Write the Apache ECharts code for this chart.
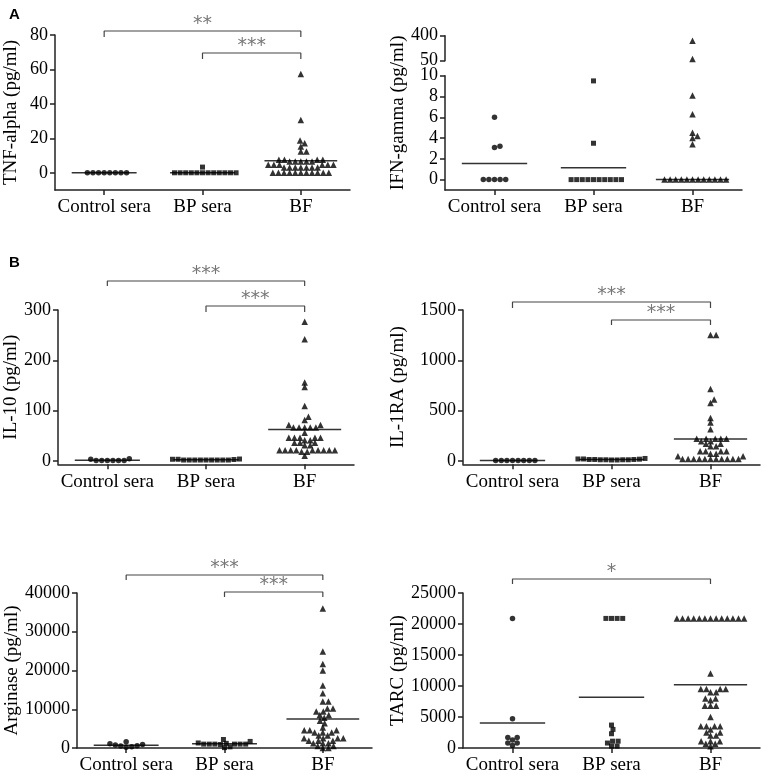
<!DOCTYPE html>
<html>
<head>
<meta charset="utf-8">
<script src="https://cdn.jsdelivr.net/npm/echarts@6/dist/echarts.min.js"></script>
<style>html,body{margin:0;padding:0;background:#fff}#c{width:765px;height:775px}</style>
</head>
<body>
<div id="c"></div>
<script>
const groups = ['Control sera', 'BP sera', 'BF'];

// A: TNF-alpha
const tnfControl = [0,0,0,0,0,0,0,0];
const tnfBP = [0,0,0,0,0,0,0,0,0,0,0,0,3.3];
const tnfBF = [57.4,30.7,18.7,17.2,15.3,12.4,12.4,7.5,7.5,7.5,7.5,6.5,6.5,6.5,6.5,6.5,4.6,4.6,4.6,4.6,4.6,4.6,3.1,3.1,3.1,3.1,3.1,3.1,3.1,0,0,0,0,0,0,0,0,0,0,0];
const tnfMedians = [0, 0, 7.0];
const tnfTicks = [0,20,40,60,80];
const tnfSig = [['Control sera','BF','**'],['BP sera','BF','***']];

// A: IFN-gamma (broken axis)
const ifnControl = [6.0,3.2,3.1,0,0,0,0,0];
const ifnBP = [9.5,3.5,0,0,0,0,0,0,0,0,0,0];
const ifnBF = [330,73.8,8.1,6.3,4.5,4.2,4.0,3.4,0,0,0,0,0,0,0,0,0,0,0,0];
const ifnMedians = [1.54, 1.13, 0];
const ifnTicksLow = [0,2,4,6,8,10];
const ifnTicksHigh = [50,400];

// B: IL-10
const il10Control = [3,0.5,0.5,0.5,0.5,0.5,0.5,4];
const il10BP = [3,1.5,1.5,1.5,1.5,1.5,2.5,3,1.5,1.5,1.5,1.5,3.5];
const il10BF = [276.7,242,156,147,109,87.6,81,71,71,66,66,66,66,66,56,46,46,46,46,46,41,41,36,36,36,31,31,21,21,21,21,21,21,21,21,21,18,18,10];
const il10Medians = [1, 2, 62.4];
const il10Ticks = [0,100,200,300];
const il10Sig = [['Control sera','BF','***'],['BP sera','BF','***']];

// B: IL-1RA
const il1raControl = [5,5,5,5,5,5,5,5];
const il1raBP = [20,15,12,12,10,12,15,25,12,10,15,20,18];
const il1raBF = [1251,1251,714,611,577,428,382,315,222,222,222,222,222,196,196,172,172,146,146,96,96,96,96,73,73,46,46,20,20,20,20,20,20,20,20,20,20,20];
const il1raMedians = [5, 15, 219];
const il1raTicks = [0,500,1000,1500];
const il1raSig = [['Control sera','BF','***'],['BP sera','BF','***']];

// B: Arginase
const argControl = [1100,800,500,200,300,600,900,1600];
const argBP = [1000,1000,1000,2200,1700,100,300,1000,1000,1000,900,1200,1300];
const argBF = [36000,24900,21700,20000,16100,14100,12000,12000,10200,10200,9400,9400,8500,8500,7800,7050,6400,5300,4600,4600,4600,4000,4000,4000,3200,3200,2500,2500,2500,2500,1900,1900,1900,1200,1200,1200,500,500,0,0];
const argMedians = [700, 1100, 7500];
const argTicks = [0,10000,20000,30000,40000];
const argSig = [['Control sera','BF','***'],['BP sera','BF','***']];

// B: TARC
const tarcControl = [20900,4700,1700,1700,1300,800,800,400];
const tarcBP = [20900,20900,20900,20900,3700,3000,2300,1100,1100,800,300,300];
const tarcBF = [20900,20900,20900,20900,20900,20900,20900,20900,20900,20900,20900,20900,20900,12000,9500,9500,9500,9500,9000,9000,8000,8000,7700,6800,6800,6800,5000,3500,3500,3500,3500,3000,2500,2500,2000,2000,1100,1100,1100,700,700,300];
const tarcMedians = [4030, 8200, 10200];
const tarcTicks = [0,5000,10000,15000,20000,25000];
const tarcSig = [['Control sera','BF','*']];

// ---------- styling / layout ----------
const SERIF = 'Liberation Serif';
const AX = '#222';
const symbols = ['circle','rect','triangle'];
const symSizes = [5.5, 5, 6.5];
const halfW = [0.33, 0.33, 0.37];
const SPACE_X = 5.6;   // horizontal spacing of neighbours (px)
const SPACE_Y = 4.5;   // vertical reach of collisions (px)

const option = {
  animation: false,
  backgroundColor: '#fff',
  title: [
    {text:'A', left:4, top:2, textStyle:{fontFamily:'Liberation Sans', fontWeight:'bold', fontSize:15, color:'#000'}},
    {text:'B', left:4, top:250, textStyle:{fontFamily:'Liberation Sans', fontWeight:'bold', fontSize:15, color:'#000'}}
  ],
  grid: [], xAxis: [], yAxis: [], series: []
};

function addGrid(box, cfg) {
  const gi = option.grid.length;
  option.grid.push({left:box.left, top:box.top, width:box.width, height:box.height});
  option.xAxis.push({
    gridIndex: gi, type: 'value', min: -0.5, max: 2.5, show: cfg.xShow !== false,
    axisLine: {onZero:false, lineStyle:{color:AX, width:1.5}},
    axisTick: {customValues:[0,1,2], length:5, lineStyle:{color:AX, width:1.5}},
    axisLabel: {customValues:[0,1,2], formatter: v => groups[Math.round(v)], fontFamily:SERIF, fontSize:19, color:'#000', margin:8},
    splitLine: {show:false}
  });
  option.yAxis.push({
    gridIndex: gi, type: 'value', min: cfg.min, max: cfg.max,
    name: cfg.name || '', nameLocation: 'middle', nameGap: cfg.nameGap || 0,
    nameTextStyle: {fontFamily:SERIF, fontSize:19, color:'#000'},
    axisLine: {show: cfg.yLine !== false, onZero:false, lineStyle:{color:AX, width:1.5}},
    axisTick: {show: !!cfg.ticks, customValues: cfg.ticks || [], length:5, lineStyle:{color:AX, width:1.5}},
    axisLabel: {show: !!cfg.ticks, customValues: cfg.ticks || [], formatter: v => String(v), fontFamily:SERIF, fontSize:18, color:'#000', margin:7},
    splitLine: {show:false}
  });
  return gi;
}

function swarm(values, ppu) {
  const order = values.map((v,i)=>i).sort((a,b)=>values[a]-values[b]);
  const placed = []; const off = new Array(values.length).fill(0);
  for (const i of order) {
    const y = values[i]*ppu;
    const near = placed.filter(p => Math.abs(p.y-y) < SPACE_Y);
    const cands = [0];
    near.forEach(p => {
      const r = (p.y-y)/SPACE_Y;
      const dx = SPACE_X*Math.sqrt(Math.max(0, 1-r*r));
      cands.push(p.x+dx, p.x-dx);
    });
    cands.sort((a,b)=>(Math.abs(a)-Math.abs(b)) || (b-a));
    let best = 0;
    for (const c of cands) {
      const ok = near.every(p => {
        const ex = (p.x-c)/SPACE_X, ey = (p.y-y)/SPACE_Y;
        return ex*ex + ey*ey >= 1-1e-6;
      });
      if (ok) { best = c; break; }
    }
    placed.push({x:best, y}); off[i] = best;
  }
  return off;
}

function addPoints(gi, sets, ppu) {
  sets.forEach((vals, g) => {
    const off = swarm(vals, ppu);
    option.series.push({
      type:'scatter', xAxisIndex:gi, yAxisIndex:gi, symbol:symbols[g], symbolSize:symSizes[g],
      itemStyle:{color:'#000'}, z:3, silent:true,
      data: vals.map((v,i)=>({value:[g, v], symbolOffset:[off[i], 0]}))
    });
  });
}

function addMedians(gi, meds) {
  meds.forEach((m, g) => {
    option.series.push({
      type:'line', xAxisIndex:gi, yAxisIndex:gi, symbol:'none', silent:true, z:2,
      lineStyle:{color:'#333', width:1.5},
      data:[[g-halfW[g], m],[g+halfW[g], m]]
    });
  });
}

function addBrackets(gi, sig, cfg, box, bars, drops) {
  const ppu = box.height/(cfg.max-cfg.min);
  sig.forEach((s, k) => {
    const a = groups.indexOf(s[0]), b = groups.indexOf(s[1]);
    const barV = cfg.max - bars[k]/ppu;
    const tipV = barV - drops[k]/ppu;
    option.series.push({
      type:'line', xAxisIndex:gi, yAxisIndex:gi, symbol:'none', clip:false, silent:true,
      lineStyle:{color:'#444', width:1.2},
      data:[[a,tipV],[a,barV],[b,barV],[b,tipV]]
    });
    option.series.push({
      type:'scatter', xAxisIndex:gi, yAxisIndex:gi, symbolSize:1, clip:false, silent:true,
      itemStyle:{color:'rgba(0,0,0,0)'},
      label:{show:true, position:'top', distance:-3.5, formatter:s[2], fontFamily:'DejaVu Sans', fontSize:19, color:'#555'},
      data:[[(a+b)/2, barV]]
    });
  });
}

function panel(box, cfg, sets, meds, sig, bars, drops) {
  const gi = addGrid(box, cfg);
  const ppu = box.height/(cfg.max-cfg.min);
  addMedians(gi, meds);
  addPoints(gi, sets, ppu);
  if (sig) addBrackets(gi, sig, cfg, box, bars, drops);
}

// TNF-alpha
panel({left:55, top:35, width:295, height:155},
  {min:-10, max:80, ticks:tnfTicks, name:'TNF-alpha (pg/ml)', nameGap:34},
  [tnfControl, tnfBP, tnfBF], tnfMedians, tnfSig, [-4, 18], [6, 6]);

// IFN-gamma: lower segment, upper segment, name holder
(function(){
  const low = {left:445, top:75.7, width:297, height:114.3};
  const high = {left:445, top:35.7, width:297, height:25};
  const gLow = addGrid(low, {min:-1, max:10, ticks:ifnTicksLow});
  const gHigh = addGrid(high, {min:50, max:400, ticks:ifnTicksHigh, xShow:false});
  addGrid({left:445, top:35.7, width:297, height:154.3}, {min:0, max:1, xShow:false, yLine:false, name:'IFN-gamma (pg/ml)', nameGap:37});
  addMedians(gLow, ifnMedians);
  const lowSets = [ifnControl, ifnBP, ifnBF].map(a => a.filter(v => v <= 10));
  const highSets = [ifnControl, ifnBP, ifnBF].map(a => a.filter(v => v > 10));
  addPoints(gLow, lowSets, low.height/11);
  addPoints(gHigh, highSets, high.height/350);
})();

// IL-10
panel({left:58, top:310, width:296, height:154.3},
  {min:-7, max:300, ticks:il10Ticks, name:'IL-10 (pg/ml)', nameGap:36},
  [il10Control, il10BP, il10BF], il10Medians, il10Sig, [-29, -4], [5, 6]);

// IL-1RA
panel({left:463, top:310, width:297, height:154.3},
  {min:-33, max:1500, ticks:il1raTicks, name:'IL-1RA (pg/ml)', nameGap:55},
  [il1raControl, il1raBP, il1raBF], il1raMedians, il1raSig, [-8, 10], [6, 5]);

// Arginase
panel({left:77, top:593, width:295, height:155},
  {min:0, max:40000, ticks:argTicks, name:'Arginase (pg/ml)', nameGap:55},
  [argControl, argBP, argBF], argMedians, argSig, [-18, -1], [5, 5]);

// TARC
panel({left:463, top:593, width:297, height:155},
  {min:0, max:25000, ticks:tarcTicks, name:'TARC (pg/ml)', nameGap:55},
  [tarcControl, tarcBP, tarcBF], tarcMedians, tarcSig, [-14], [5]);

const chart = echarts.init(document.getElementById('c'), null, {renderer:'canvas'});
chart.setOption(option);
</script>
</body>
</html>
